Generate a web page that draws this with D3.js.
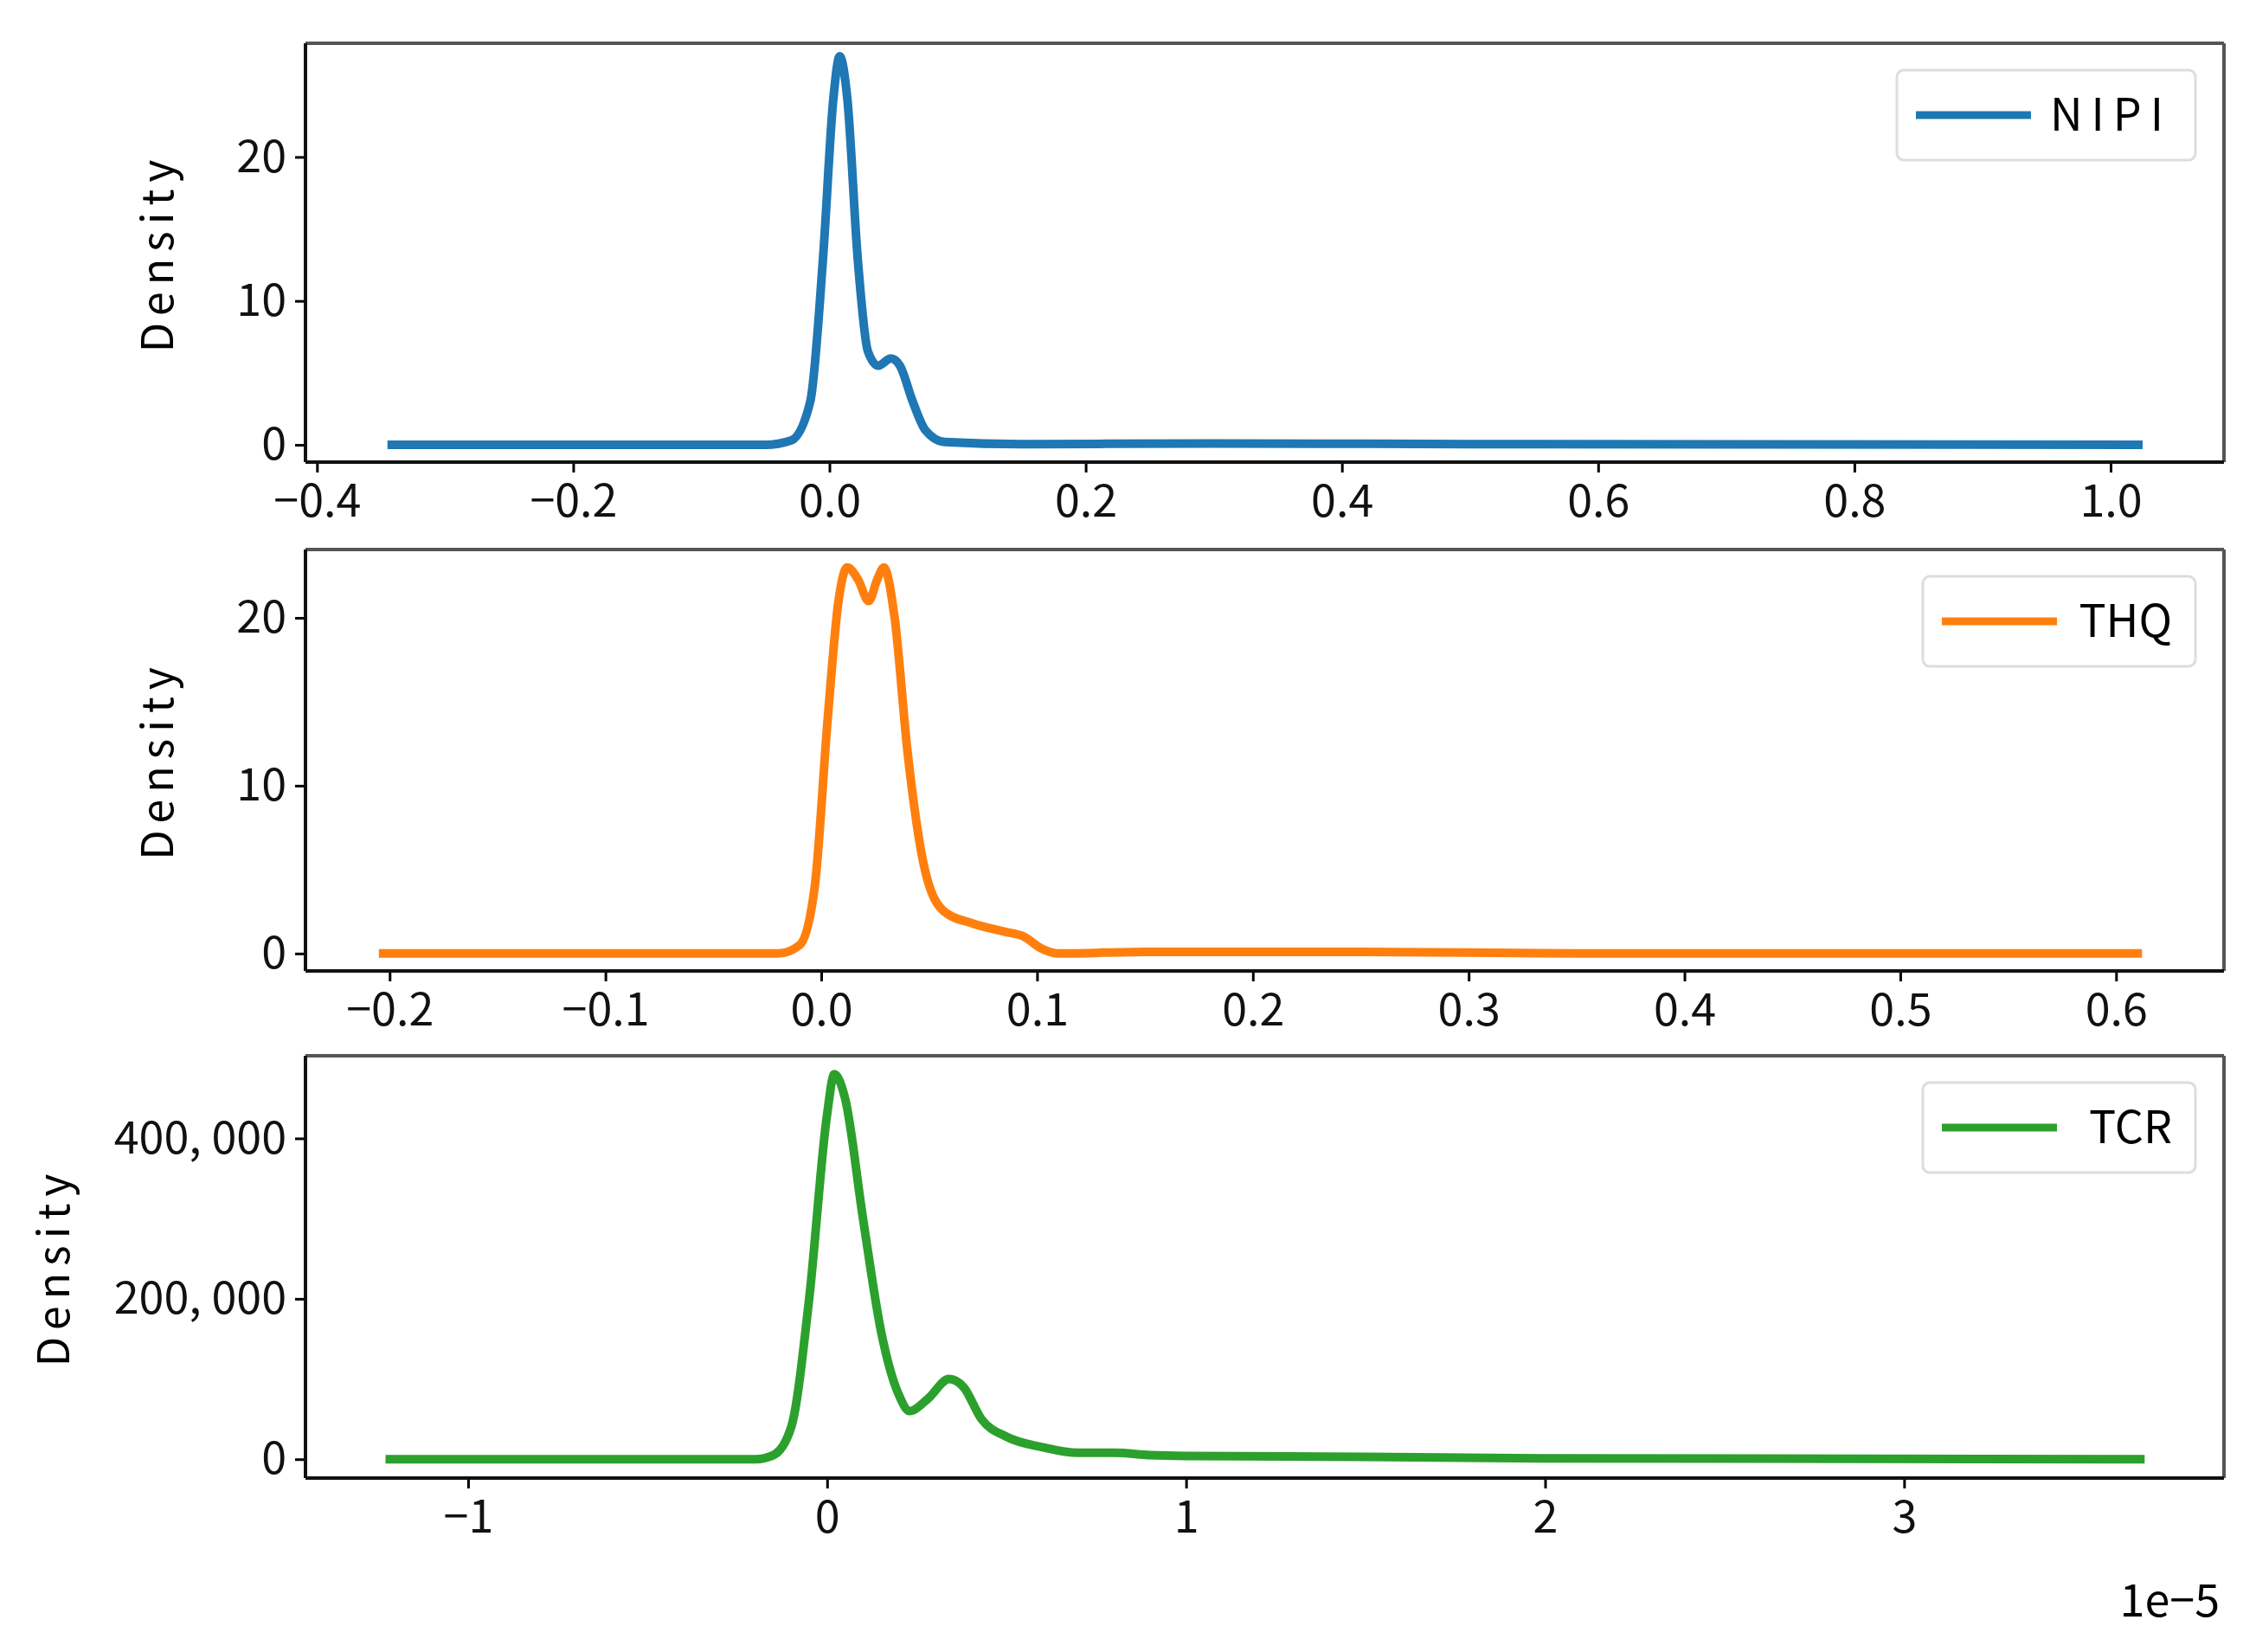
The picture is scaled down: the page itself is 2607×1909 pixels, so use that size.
<!DOCTYPE html>
<html><head><meta charset="utf-8">
<script src="https://cdn.jsdelivr.net/npm/d3@7"></script>
<style>body{margin:0;background:#fff}text{font-family:"Noto Sans CJK SC","DejaVu Sans Mono",sans-serif}</style>
</head><body><svg id="chart" width="2607" height="1909"></svg>
<script>
// density curves
var nipiX = [-0.345,-0.05,-0.03,-0.015,-0.005,0.003,0.008,0.014,0.022,0.03,0.038,0.048,0.055,0.065,0.075,0.09,0.15,0.3,0.5,1.025]
var nipiY = [0,0,0.3,3,13,24,27,24,13,6.5,5.5,6,5.5,3,1,0.2,0.05,0.1,0.05,0]
var thqX = [-0.205,-0.02,-0.01,-0.003,0.003,0.008,0.012,0.017,0.022,0.026,0.029,0.034,0.04,0.048,0.057,0.07,0.085,0.094,0.102,0.11,0.15,0.25,0.35,0.612]
var thqY = [0,0,0.5,4,14,21,23,22.3,21,22.3,23,20,12,5,2.5,1.8,1.3,1,0.3,0,0.1,0.1,0,0]
var tcrX = [-1.23,-0.2,-0.15,-0.1,-0.05,0,0.02,0.05,0.1,0.15,0.2,0.23,0.28,0.34,0.38,0.43,0.5,0.6,0.7,0.8,0.9,1.0,1.5,2,3.67]
var tcrY = [0,0,5000,40000,200000,430000,480000,450000,300000,160000,80000,60000,75000,100000,90000,50000,28000,15000,8000,8000,5000,4000,3000,1000,0]

var panels = [
  {name:"NIPI", color:"#1f77b4", xs:nipiX, ys:nipiY, xd:[-0.409,1.0885], yd:[-1.2,27.9],
   xt:[-0.4,-0.2,0,0.2,0.4,0.6,0.8,1.0], yt:[0,10,20], xf:d3.format(".1f"), yf:d3.format("d"), top:50, bot:534},
  {name:"THQ", color:"#ff7f0e", xs:thqX, ys:thqY, xd:[-0.239,0.650], yd:[-1.04,24.07],
   xt:[-0.2,-0.1,0,0.1,0.2,0.3,0.4,0.5,0.6], yt:[0,10,20], xf:d3.format(".1f"), yf:d3.format("d"), top:635, bot:1122},
  {name:"TCR", color:"#2ca02c", xs:tcrX, ys:tcrY, xd:[-1.453,3.891], yd:[-23500,503000],
   xt:[-1,0,1,2,3], yt:[0,200000,400000], xf:d3.format("d"), yf:function(v){return d3.format(",")(v).replace(",",", ")}, top:1220, bot:1708}
]
var L = 353, R = 2570
var svg = d3.select("#chart")

panels.forEach(function(p){
  var x = d3.scaleLinear().domain(p.xd).range([L,R])
  var y = d3.scaleLinear().domain(p.yd).range([p.bot,p.top])
  var g = svg.append("g")
  var pts = p.xs.map(function(v,i){return [v,p.ys[i]]})
  g.append("path").datum(pts).attr("fill","none").attr("stroke",p.color).attr("stroke-width",10)
    .attr("d", d3.line().x(function(d){return x(d[0])}).y(function(d){return y(d[1])}).curve(d3.curveMonotoneX))

  var xa = g.append("g").attr("transform","translate(0,"+p.bot+")")
    .call(d3.axisBottom(x).tickValues(p.xt).tickFormat(function(v){return p.xf(v).replace("-","\u2212")}).tickSize(12).tickPadding(14))
  var ya = g.append("g").attr("transform","translate("+L+",0)")
    .call(d3.axisLeft(y).tickValues(p.yt).tickFormat(p.yf).tickSize(12).tickPadding(10))
  ;[xa,ya].forEach(function(a){
    a.select(".domain").remove()
    a.selectAll("line").attr("stroke","#000").attr("stroke-width",3)
    a.selectAll("text").attr("font-size",52).attr("fill","#111")
  })
  // frame
  g.append("line").attr("x1",L).attr("x2",R).attr("y1",p.top).attr("y2",p.top).attr("stroke","#555").attr("stroke-width",4)
  g.append("line").attr("x1",R).attr("x2",R).attr("y1",p.top).attr("y2",p.bot).attr("stroke","#555").attr("stroke-width",4)
  g.append("line").attr("x1",L).attr("x2",R).attr("y1",p.bot).attr("y2",p.bot).attr("stroke","#111").attr("stroke-width",4)
  g.append("line").attr("x1",L).attr("x2",L).attr("y1",p.top).attr("y2",p.bot).attr("stroke","#111").attr("stroke-width",4)

  var labx = p.name=="TCR" ? 80 : 200
  g.append("text").attr("transform","translate("+labx+","+((p.top+p.bot)/2)+") rotate(-90)")
    .attr("text-anchor","middle").attr("font-size",50).attr("letter-spacing",8).text("Density")

  // legend
  var lx = p.name=="NIPI" ? 2192 : 2222, ly = p.top+31
  g.append("rect").attr("x",lx).attr("y",ly).attr("width",2537-lx).attr("height",104).attr("rx",8)
    .attr("fill","#fff").attr("stroke","#ddd").attr("stroke-width",3)
  g.append("line").attr("x1",lx+22).attr("x2",lx+155).attr("y1",ly+52).attr("y2",ly+52).attr("stroke",p.color).attr("stroke-width",9)
  g.append("text").attr("x",2510).attr("y",ly+70).attr("text-anchor","end").attr("font-size",52)
    .attr("letter-spacing",p.name=="NIPI"?10:0).text(p.name)
})
svg.append("text").attr("x",2565).attr("y",1868).attr("text-anchor","end").attr("font-size",52).text("1e\u22125")
</script></body></html>
